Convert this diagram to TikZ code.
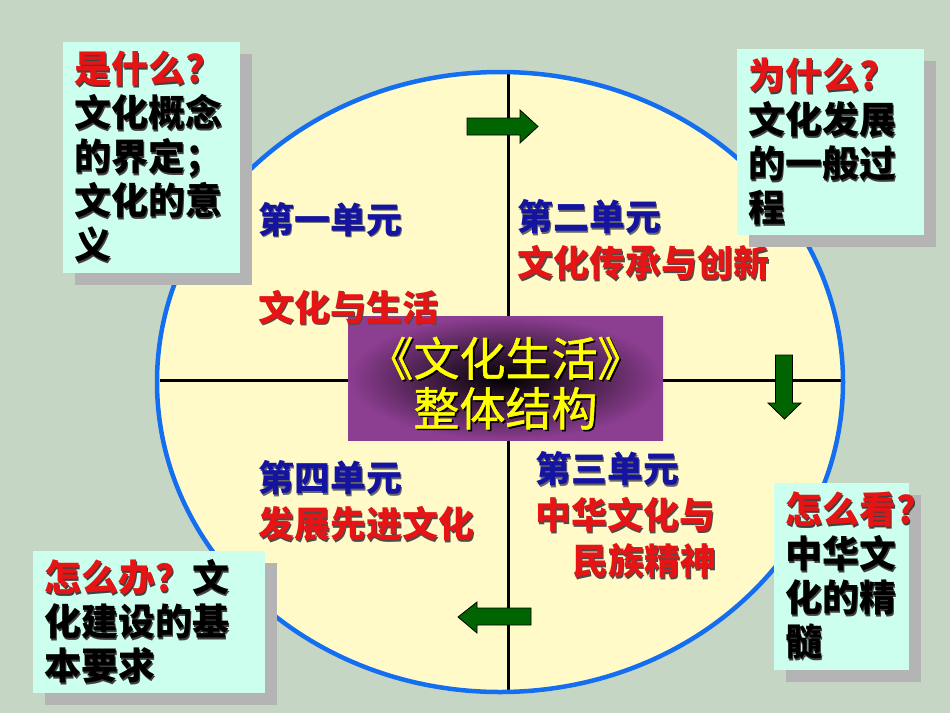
\documentclass[tikz,border=0pt]{standalone}
\usepackage{fontspec}
\newfontfamily\cjk{Noto Sans CJK SC}
\newfontfamily\cjkmid{Noto Sans CJK SC}[FakeBold=1.2]
\usetikzlibrary{shapes.geometric,shadows}
\definecolor{bgc}{RGB}{198,214,196}
\definecolor{ellfill}{RGB}{255,250,200}
\definecolor{ellblue}{RGB}{20,110,240}
\definecolor{boxfill}{RGB}{204,255,238}
\definecolor{boxshadow}{RGB}{180,180,180}
\definecolor{redt}{RGB}{230,20,20}
\definecolor{bluet}{RGB}{20,20,160}
\definecolor{purp}{RGB}{140,62,145}
\definecolor{arrg}{RGB}{0,100,0}
\definecolor{yel}{RGB}{255,255,0}
\newcommand\stx[3][black!75]{\makebox[0pt][l]{\hspace{1.6pt}\raisebox{-1.6pt}{\textcolor{#1}{#3}}}\textcolor{#2}{#3}}
\tikzset{
  qbox/.style={draw=none, fill=boxfill, anchor=north west, inner xsep=11pt, inner ysep=0pt,
    align=left, font=\cjk\bfseries\fontsize{37}{44}\selectfont,
    drop shadow={shadow xshift=12pt, shadow yshift=-12pt, fill=boxshadow, opacity=1}},
  unitlbl/.style={anchor=west, inner sep=0pt, align=left, font=\cjk\bfseries\fontsize{36}{46}\selectfont},
  crossline/.style={line width=3pt, black},
  blockarrow/.style={fill=arrg, draw=black, line width=0.8pt, line join=miter}
}
\begin{document}
\begin{tikzpicture}[x=1pt,y=-1pt]
\useasboundingbox (0,0) rectangle (950,713);
\fill[bgc] (0,0) rectangle (950,713);

% big ellipse
\node (ell) [ellipse, fill=ellfill, draw=none, minimum width=686pt, minimum height=620pt, inner sep=0pt] at (500,382) {};

% cross lines
\coordinate (vtop) at (508,74);
\coordinate (vbot) at (508,691);
\coordinate (hleft) at (160,380);
\coordinate (hright) at (841,380);
\draw[crossline] (vtop) -- (vbot);
\draw[crossline] (hleft) -- (hright);

% ellipse border on top
\node (ellb) [ellipse, draw=ellblue, line width=4.5pt, minimum width=686pt, minimum height=620pt, inner sep=0pt] at (500,382) {};

% centre box
\shade[inner color=black, outer color=purp] (348,316) rectangle (663,440);
\node (ctr) [minimum width=315pt, minimum height=124pt, inner sep=0pt, align=center,
  font=\cjkmid\fontsize{46}{50}\selectfont] at (505.5,384)
  {\stx[black]{yel}{《文化生活》}\\\stx[black]{yel}{整体结构}};

% unit labels
\node (u1) [unitlbl] at (258,220) {\stx[black!60]{bluet}{第一单元}};
\node (u1t) [unitlbl] at (258,308) {\stx[black!70]{redt}{文化与生活}};
\node (u2) [unitlbl] at (517,241) {\stx[black!60]{bluet}{第二单元}\\\stx[black!70]{redt}{文化传承与创新}};
\node (u4) [unitlbl] at (258,502) {\stx[black!60]{bluet}{第四单元}\\\stx[black!70]{redt}{发展先进文化}};
\node (u3) [unitlbl] at (535,516) {\stx[black!60]{bluet}{第三单元}\\\stx[black!70]{redt}{中华文化与}\\\hspace*{37pt}\stx[black!70]{redt}{民族精神}};

% green block arrows
\draw[blockarrow] (467,118) -- (520,118) -- (520,110) -- (538,126.5) -- (520,143) -- (520,135) -- (467,135) -- cycle;
\draw[blockarrow] (775.5,355) -- (792.5,355) -- (792.5,403) -- (801,403) -- (784.5,419) -- (768,403) -- (775.5,403) -- cycle;
\draw[blockarrow] (531,608) -- (477,608) -- (477,602) -- (458,617) -- (477,633) -- (477,625) -- (531,625) -- cycle;

% corner boxes
\node (q1) [qbox, minimum width=177pt, minimum height=231pt, text width=155pt] at (63,42)
  {\stx{redt}{是什么?}\\\stx{black}{文化概念}\\\stx{black}{的界定；}\\\stx{black}{文化的意}\\\stx{black}{义}};
\node (q2) [qbox, minimum width=187pt, minimum height=186pt, text width=165pt] at (737,49)
  {\stx{redt}{为什么?}\\\stx{black}{文化发展}\\\stx{black}{的一般过}\\\stx{black}{程}};
\node (q3) [qbox, minimum width=135pt, minimum height=187pt, text width=113pt] at (774,483)
  {\stx{redt}{怎么看?}\\\stx{black}{中华文}\\\stx{black}{化的精}\\\stx{black}{髓}};
\node (q4) [qbox, minimum width=232pt, minimum height=142pt, text width=210pt] at (33,551)
  {\stx{redt}{怎么办？}\stx{black}{文}\\\stx{black}{化建设的基}\\\stx{black}{本要求}};
\end{tikzpicture}
\end{document}
